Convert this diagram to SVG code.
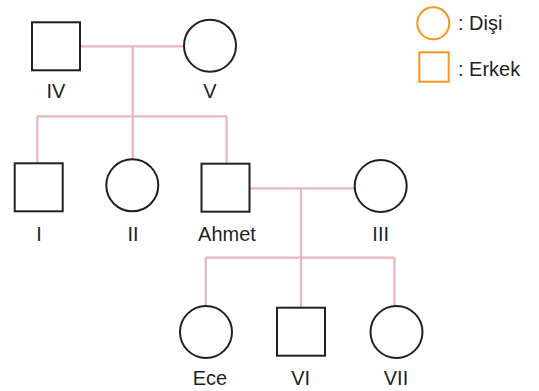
<svg xmlns="http://www.w3.org/2000/svg" width="539" height="391" viewBox="0 0 539 391">
<style>
.m{fill:#fff;stroke:#231f20;stroke-width:2}
.c{fill:none;stroke:#e8b5bf;stroke-width:2.2}
.lg{fill:#fff;stroke:#f7941d;stroke-width:2}
text{font-family:"Liberation Sans",Arial,sans-serif;font-size:20px;fill:#231f20}
.t{text-anchor:middle}
</style>
<rect width="539" height="391" fill="#fff"/>
<g id="connectors">
<path class="c" d="M80 46.3H184M132.7 46.3V116.3M37.3 116.3H226.7M37.3 116.3V163M132.7 116.3V159M226.7 116.3V163"/>
<path class="c" d="M250 188.3H354M301 188.3V257.7M205.7 257.7H394.5M205.7 257.7V306M301 257.7V308M394.5 257.7V306"/>
</g>
<g id="legend">
<circle class="lg" cx="433.3" cy="23.3" r="16"/>
<text x="458" y="30" font-size="19">: Dişi</text>
<rect class="lg" x="419.3" y="52.3" width="29.4" height="29.4"/>
<text x="458" y="76" font-size="19">: Erkek</text>
</g>
<g id="IV"><rect class="m" x="32" y="22.3" width="48" height="48"/><text class="t" x="56" y="98">IV</text></g>
<g id="V"><circle class="m" cx="210" cy="45.7" r="26"/><text class="t" x="210" y="98">V</text></g>
<g id="I"><rect class="m" x="14.7" y="163.3" width="48" height="48"/><text class="t" x="39" y="241">I</text></g>
<g id="II"><circle class="m" cx="132.3" cy="185.3" r="26"/><text class="t" x="133" y="241">II</text></g>
<g id="Ahmet"><rect class="m" x="201.5" y="163.7" width="48" height="48"/><text class="t" x="227" y="241">Ahmet</text></g>
<g id="III"><circle class="m" cx="380.7" cy="186" r="26"/><text class="t" x="380.7" y="241">III</text></g>
<g id="Ece"><circle class="m" cx="206" cy="332" r="26"/><text class="t" x="210" y="385">Ece</text></g>
<g id="VI"><rect class="m" x="277" y="307.7" width="48" height="48"/><text class="t" x="300.7" y="385">VI</text></g>
<g id="VII"><circle class="m" cx="396.5" cy="332" r="26"/><text class="t" x="396" y="385">VII</text></g>
</svg>
